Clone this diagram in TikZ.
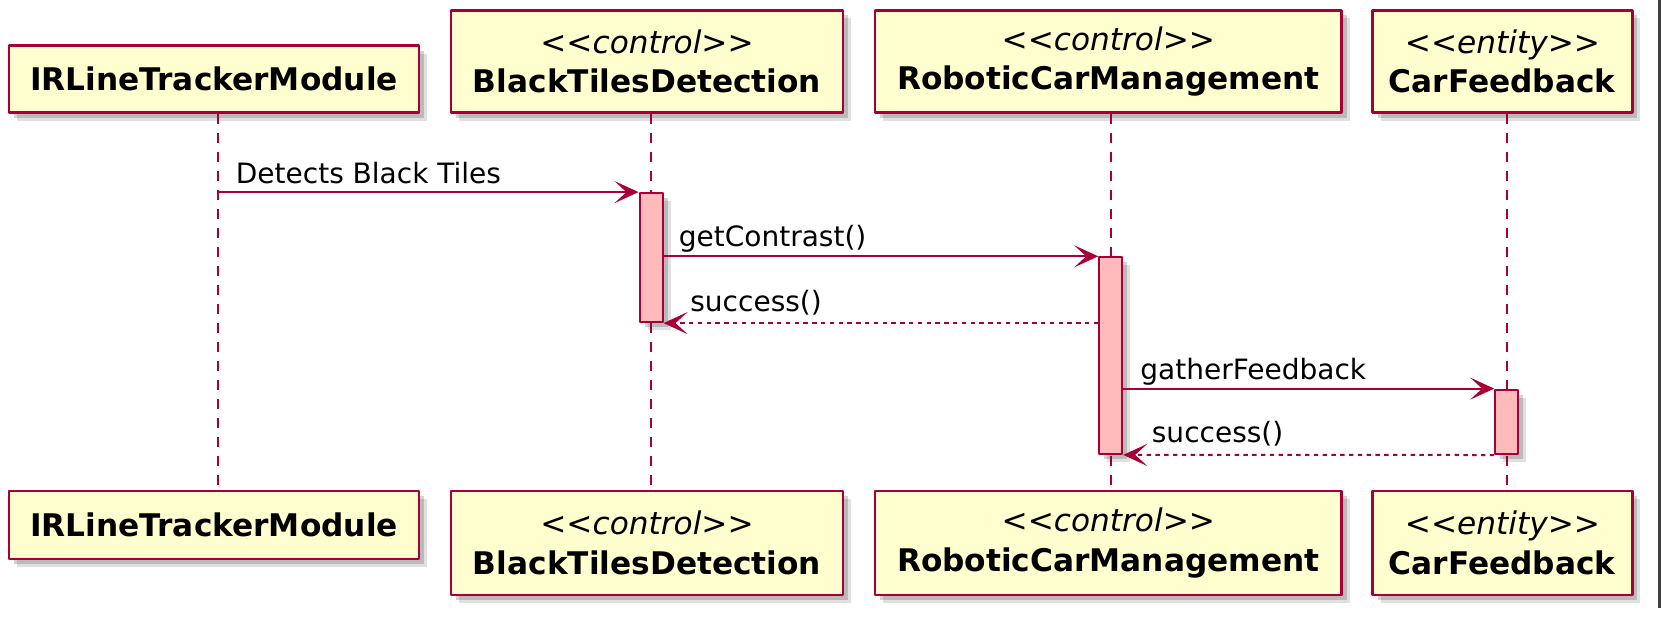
\documentclass[tikz,border=0pt]{standalone}
\usepackage{fontspec}
\setmainfont{DejaVu Sans}
\usetikzlibrary{arrows.meta,shadows}
\definecolor{sdRed}{HTML}{A80036}
\definecolor{sdHead}{HTML}{FEFECE}
\definecolor{sdAct}{HTML}{FFBBBB}
\newcommand{\stereo}[1]{\textit{<\kern0pt<#1>\kern0pt>}}
\tikzset{
  sd diagram/.style={font=\fontsize{14}{16}\selectfont, line join=round},
  sd shadow/.style={
    drop shadow={shadow xshift=4pt, shadow yshift=-4pt, opacity=.12, fill=black},
    drop shadow={shadow xshift=2.5pt, shadow yshift=-2.5pt, opacity=.25, fill=black!70}},
  sd head/.style={draw=sdRed, fill=sdHead, line width=1.4pt, inner sep=0pt,
    align=center, sd shadow, font=\fontsize{15.6}{19.75}\selectfont},
  sd act/.style={draw=sdRed, fill=sdAct, line width=1pt, inner sep=0pt,
    minimum width=11.5pt, sd shadow},
  sd life/.style={draw=sdRed, line width=1pt, dash pattern=on 5pt off 4.5pt},
  sd msg/.style={draw=sdRed, line width=1pt,
    -{Stealth[length=12pt,width=11pt,inset=6pt]}},
  sd reply/.style={sd msg, dash pattern=on 2.2pt off 2.2pt},
  sd label/.style={anchor=base west, inner sep=0pt}
}
\begin{document}
\begin{tikzpicture}[sd diagram,x=0.5pt,y=-0.5pt]
\useasboundingbox (0,0) rectangle (1661,622);
\fill[white] (0,0) rectangle (1661,622);
\fill[black!75] (1658,0) rectangle (1661,608);
% participants, top row
\node[sd head,minimum width=205pt,minimum height=33.5pt] (irTop) at (214,79.2) {\textbf{IRLineTrackerModule}};
\node[sd head,minimum width=196pt,minimum height=51.3pt] (btTop) at (647,61.4) {\stereo{control}\\\textbf{BlackTilesDetection}};
\node[sd head,minimum width=233.3pt,minimum height=51.3pt] (rcTop) at (1108.3,61.4) {\stereo{control}\\\textbf{RoboticCarManagement}};
\node[sd head,minimum width=129.8pt,minimum height=51.3pt] (cfTop) at (1502.5,61.4) {\stereo{entity}\\\textbf{CarFeedback}};
% participants, bottom row
\node[sd head,minimum width=205pt,minimum height=34pt] (irBot) at (214,525) {\textbf{IRLineTrackerModule}};
\node[sd head,minimum width=196pt,minimum height=52pt] (btBot) at (647,543) {\stereo{control}\\\textbf{BlackTilesDetection}};
\node[sd head,minimum width=233.3pt,minimum height=52pt] (rcBot) at (1108.3,543) {\stereo{control}\\\textbf{RoboticCarManagement}};
\node[sd head,minimum width=129.8pt,minimum height=52pt] (cfBot) at (1502.5,543) {\stereo{entity}\\\textbf{CarFeedback}};
% lifelines
\coordinate (irL) at (218,0);
\coordinate (btL) at (651,0);
\coordinate (rcL) at (1110.7,0);
\coordinate (cfL) at (1506.7,0);
\draw[sd life] (irL |- irTop.south) -- (irL |- irBot.north);
\draw[sd life] (btL |- btTop.south) -- (btL |- btBot.north);
\draw[sd life] (rcL |- rcTop.south) -- (rcL |- rcBot.north);
\draw[sd life] (cfL |- cfTop.south) -- (cfL |- cfBot.north);
% activations
\node[sd act,minimum height=64.5pt] (actBT) at (651,257.6) {};
\node[sd act,minimum height=98.3pt] (actRC) at (1110.7,355.6) {};
\node[sd act,minimum height=32.2pt] (actCF) at (1506.7,421.8) {};
% messages
\draw[sd msg] (irL |- actBT.north) -- (actBT.north west);
\node[sd label] (lblDetect) at (235.5,183) {Detects Black Tiles};
\draw[sd msg] (actBT.east |- actRC.north) -- (actRC.north west);
\node[sd label] (lblContrast) at (678.5,246) {getContrast()};
\draw[sd reply] (actRC.west |- actBT.south) -- (actBT.south east);
\node[sd label] (lblOk1) at (690,311) {success()};
\draw[sd msg] (actRC.east |- actCF.north) -- (actCF.north west);
\node[sd label] (lblGather) at (1140,379) {gatherFeedback};
\draw[sd reply] (actCF.south west) -- (actRC.south east);
\node[sd label] (lblOk2) at (1151.5,442.5) {success()};
\end{tikzpicture}
\end{document}
